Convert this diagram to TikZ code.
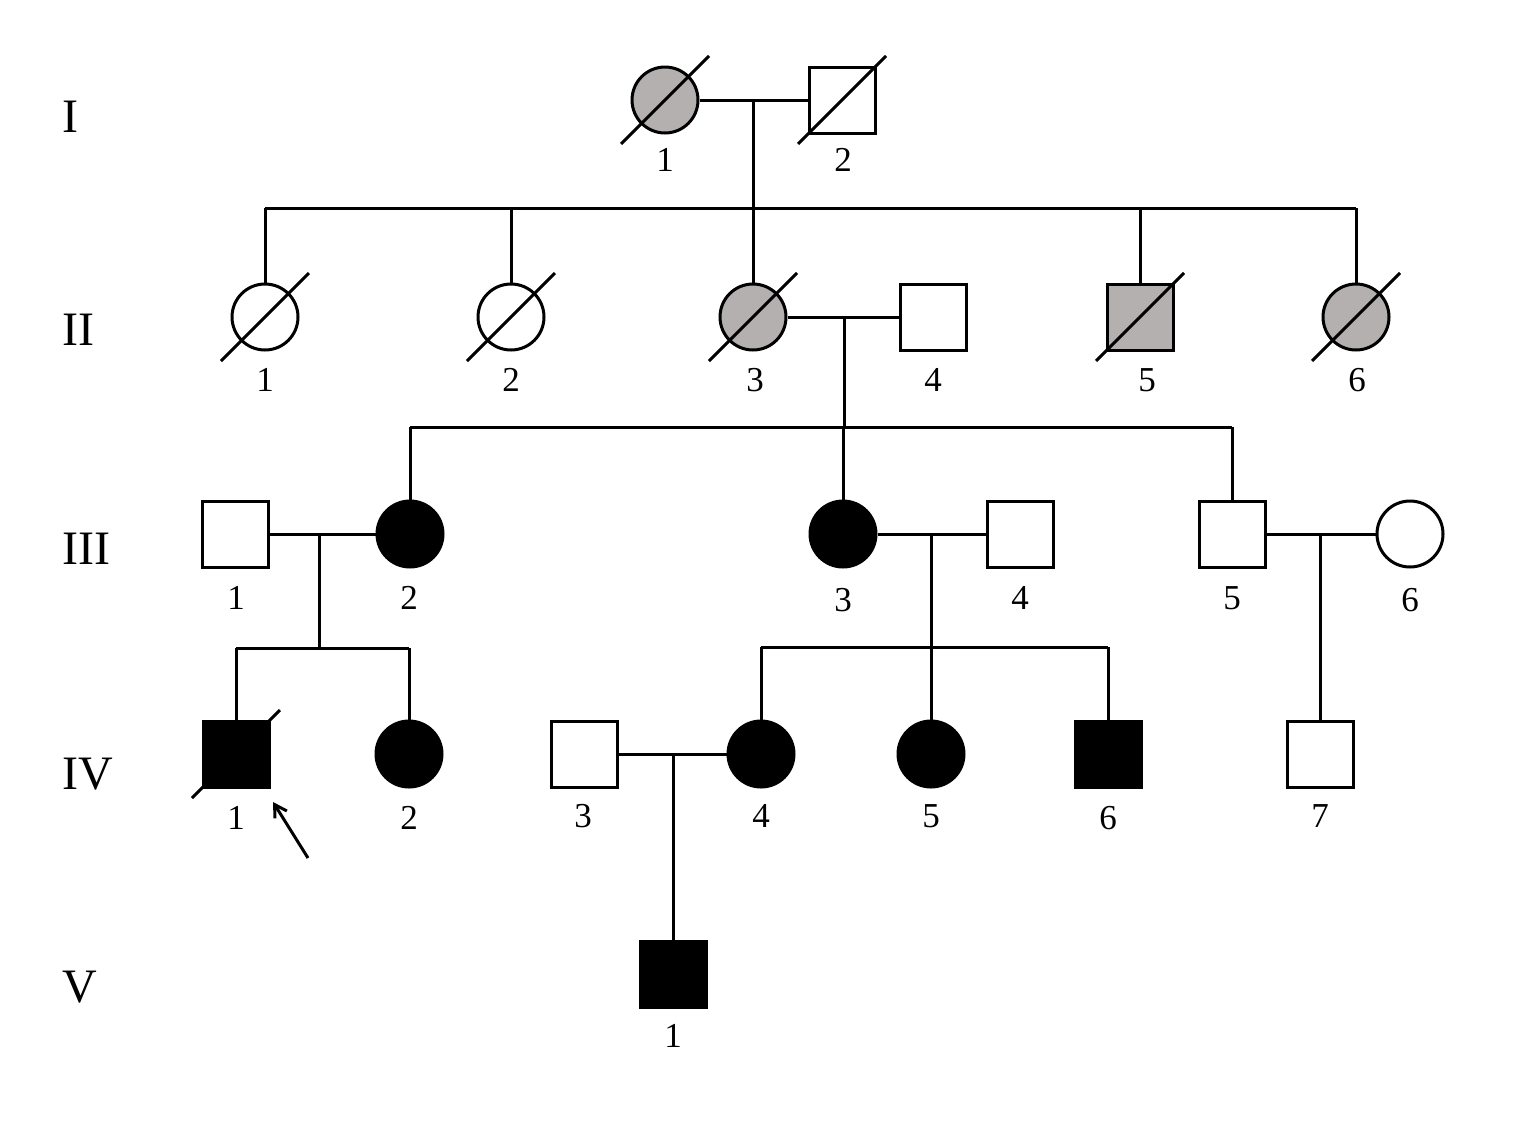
\documentclass[tikz,border=0pt]{standalone}
\usepackage{fontspec}
\setmainfont{Liberation Serif}
\usetikzlibrary{calc,arrows.meta}
\definecolor{carriergray}{RGB}{180,176,175}
\tikzset{
  x=1pt,y=-1pt,
  every path/.style={line width=3pt},
  person/.style={draw=black,line width=3pt,fill=white,inner sep=0pt},
  male/.style={person,rectangle,minimum width=66pt,minimum height=66pt},
  female/.style={person,circle,minimum size=66pt},
  affected/.style={fill=black},
  carrier/.style={fill=carriergray},
  num/.style={font=\fontsize{35}{40}\selectfont,inner sep=0pt,anchor=center},
  gen/.style={font=\fontsize{48}{54}\selectfont,inner sep=0pt,anchor=west},
  link/.style={line width=3pt,line cap=butt},
}
\newcommand{\dead}[1]{\draw[line width=3pt] ($(#1)+(-44,44)$) -- ($(#1)+(44,-44)$);}
\begin{document}
\begin{tikzpicture}
\useasboundingbox (0,0) rectangle (1527,1136);

% generation labels
\node[gen] (gI)   at (61,117) {I};
\node[gen] (gII)  at (61,330) {II};
\node[gen] (gIII) at (61,549) {III};
\node[gen] (gIV)  at (61,774) {IV};
\node[gen] (gV)   at (61,987) {V};

% coordinates for family lines
\coordinate (m1) at (753,100);
\coordinate (s1) at (753,208);
\coordinate (m2) at (844,317);
\coordinate (s2) at (844,427);
\coordinate (m3) at (319,534);
\coordinate (s3) at (319,648);
\coordinate (m4) at (931,534);
\coordinate (s4) at (931,647);
\coordinate (m5) at (1320,534);
\coordinate (m6) at (673,754);

% Generation I
\node[female,carrier] (I1) at (665,100) {};
\node[male] (I2) at (842,100) {};
% Generation II
\node[female] (II1) at (265,317) {};
\node[female] (II2) at (511,317) {};
\node[female,carrier] (II3) at (753,317) {};
\node[male] (II4) at (933,317) {};
\node[male,carrier] (II5) at (1140,317) {};
\node[female,carrier] (II6) at (1356,317) {};
% Generation III
\node[male] (III1) at (235,534) {};
\node[female,affected] (III2) at (410,534) {};
\node[female,affected] (III3) at (843,534) {};
\node[male] (III4) at (1020,534) {};
\node[male] (III5) at (1232,534) {};
\node[female] (III6) at (1410,534) {};
% Generation IV
\node[male,affected] (IV1) at (236,754) {};
\node[female,affected] (IV2) at (409,754) {};
\node[male] (IV3) at (584,754) {};
\node[female,affected] (IV4) at (761,754) {};
\node[female,affected] (IV5) at (931,754) {};
\node[male,affected] (IV6) at (1108,754) {};
\node[male] (IV7) at (1320,754) {};
% Generation V
\node[male,affected] (V1) at (673,974) {};

% family lines
\draw[link] (I1) -- (I2);
\draw[link] (m1) -- (s1);
\draw[link] (II1.north |- s1) -- (II6.north |- s1);
\foreach \c in {II1,II2,II3,II5,II6} \draw[link] (\c.north) -- (\c.north |- s1);

\draw[link] (II3) -- (II4);
\draw[link] (m2) -- (s2);
\draw[link] (III2.north |- s2) -- (III5.north |- s2);
\foreach \c in {III2,III3,III5} \draw[link] (\c.north) -- (\c.north |- s2);

\draw[link] (III1) -- (III2);
\draw[link] (m3) -- (s3);
\draw[link] (IV1.north |- s3) -- (IV2.north |- s3);
\foreach \c in {IV1,IV2} \draw[link] (\c.north) -- (\c.north |- s3);

\draw[link] (III3) -- (III4);
\draw[link] (m4) -- (IV5.north);
\draw[link] (IV4.north |- s4) -- (IV6.north |- s4);
\foreach \c in {IV4,IV6} \draw[link] (\c.north) -- (\c.north |- s4);

\draw[link] (III5) -- (III6);
\draw[link] (m5) -- (IV7.north);

\draw[link] (IV3) -- (IV4);
\draw[link] (m6) -- (V1.north);

% deceased slashes
\dead{I1}\dead{I2}\dead{II1}\dead{II2}\dead{II3}\dead{II5}\dead{II6}\dead{IV1}

% proband arrow
\coordinate (arrtail) at (308,858);
\coordinate (arrhead) at (273,802);
\draw[line width=3pt,-{Straight Barb[length=12pt,width=14pt,line width=3pt]}] (arrtail) -- (arrhead);

% numbers
\node[num] (nI1) at (665,160) {1};
\node[num] (nI2) at (843,160) {2};
\node[num] (nII1) at (265,380) {1};
\node[num] (nII2) at (511,380) {2};
\node[num] (nII3) at (755,380) {3};
\node[num] (nII4) at (933,380) {4};
\node[num] (nII5) at (1147,380) {5};
\node[num] (nII6) at (1357,380) {6};
\node[num] (nIII1) at (236,598) {1};
\node[num] (nIII2) at (409,598) {2};
\node[num] (nIII3) at (843,600) {3};
\node[num] (nIII4) at (1020,598) {4};
\node[num] (nIII5) at (1232,598) {5};
\node[num] (nIII6) at (1410,600) {6};
\node[num] (nIV1) at (236,818) {1};
\node[num] (nIV2) at (409,818) {2};
\node[num] (nIV3) at (583,816) {3};
\node[num] (nIV4) at (761,816) {4};
\node[num] (nIV5) at (931,816) {5};
\node[num] (nIV6) at (1108,818) {6};
\node[num] (nIV7) at (1320,816) {7};
\node[num] (nV1) at (673,1036) {1};
\end{tikzpicture}
\end{document}
